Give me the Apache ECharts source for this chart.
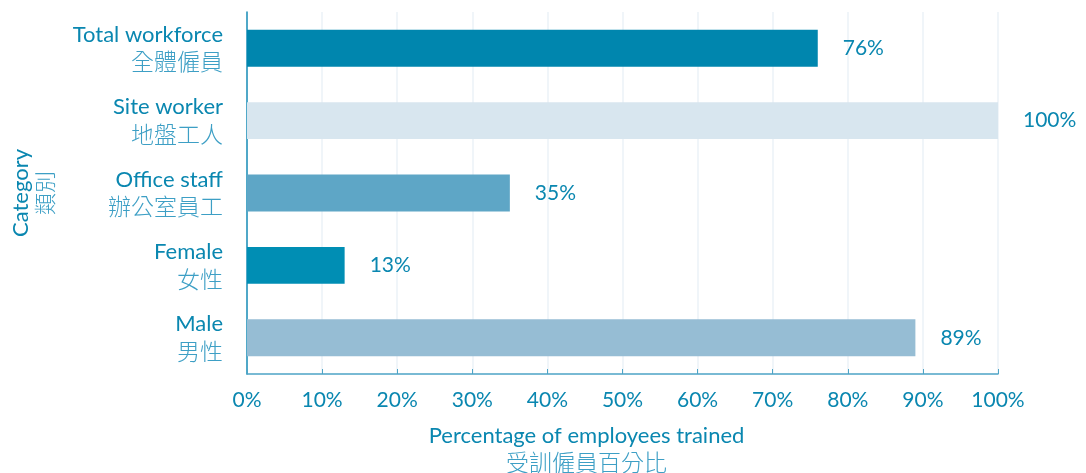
<!DOCTYPE html>
<html>
<head>
<meta charset="utf-8">
<script src="https://cdn.jsdelivr.net/npm/echarts@6/dist/echarts.min.js"></script>
<style>
  html, body { margin: 0; padding: 0; background: #fff; }
  #chart { width: 1086px; height: 473px; }
</style>
</head>
<body>
<div id="chart"></div>
<script>
// categories, top to bottom
var cat_en = ['Total workforce', 'Site worker', 'Office staff', 'Female', 'Male'];
var cat_zh = ['全體僱員', '地盤工人', '辦公室員工', '女性', '男性'];
var values = [76, 100, 35, 13, 89];
var bar_colors = ['#0086ae', '#d8e6ef', '#5ea6c6', '#008eb4', '#96bdd4'];
var x_ticks = [0, 10, 20, 30, 40, 50, 60, 70, 80, 90, 100];

var txt_dark = '#0a87b0';
var txt_light = '#3d9fc5';
var font_en = 'Lato, "Noto Sans", sans-serif';
var font_zh = '"Noto Sans CJK TC", sans-serif';

var chart = echarts.init(document.getElementById('chart'));

var option = {
    animation: false,
    grid: {
        left: 247,
        right: 88,
        top: 12,
        bottom: 99,
        outerBoundsMode: 'none'
    },
    xAxis: {
        type: 'value',
        min: x_ticks[0],
        max: x_ticks[x_ticks.length - 1],
        interval: 10,
        name: '{en|Percentage of employees trained}\n{zh|受訓僱員百分比}',
        nameLocation: 'middle',
        nameGap: 48,
        nameTextStyle: {
            align: 'center',
            padding: [0, 72, 0, 0],
            rich: {
                en: { fontFamily: font_en, fontSize: 22, color: txt_dark, lineHeight: 27, align: 'center' },
                zh: { fontFamily: font_zh, fontSize: 23, color: txt_light, lineHeight: 27, align: 'center', fontWeight: 300 }
            }
        },
        axisLine: { show: true, lineStyle: { color: '#4ea4c6', width: 1.5 } },
        axisTick: { show: true, inside: true, length: 5, lineStyle: { color: '#4ea4c6' } },
        axisLabel: {
            margin: 16,
            fontFamily: font_en,
            fontSize: 21,
            color: txt_dark,
            formatter: '{value}%'
        },
        splitLine: { show: true, lineStyle: { color: '#ebf2f7', width: 1.5 } }
    },
    yAxis: {
        type: 'category',
        inverse: true,
        data: cat_en,
        name: '{en|Category}\n{zh|類別}',
        nameLocation: 'middle',
        nameRotate: 90,
        nameGap: 190,
        nameTextStyle: {
            align: 'center',
            rich: {
                en: { fontFamily: font_en, fontSize: 22, color: txt_dark, lineHeight: 24, align: 'center' },
                zh: { fontFamily: font_zh, fontSize: 22, color: txt_light, lineHeight: 24, align: 'center', fontWeight: 300 }
            }
        },
        axisLine: { show: true, lineStyle: { color: '#1b8fb8', width: 1.5 } },
        axisTick: { show: false },
        splitLine: { show: false },
        axisLabel: {
            margin: 24,
            formatter: function (value, idx) {
                return '{en|' + value + '}\n{zh|' + cat_zh[idx] + '}';
            },
            rich: {
                en: { fontFamily: font_en, fontSize: 22, color: txt_dark, lineHeight: 27, align: 'right' },
                zh: { fontFamily: font_zh, fontSize: 23, color: txt_light, lineHeight: 27, align: 'right', fontWeight: 300 }
            }
        }
    },
    series: [{
        type: 'bar',
        barWidth: '51%',
        data: values.map(function (v, i) {
            return { value: v, itemStyle: { color: bar_colors[i] } };
        }),
        label: {
            show: true,
            position: 'right',
            distance: 25,
            fontFamily: font_en,
            fontSize: 21,
            color: txt_dark,
            formatter: '{c}%'
        }
    }]
};

chart.setOption(option);
</script>
</body>
</html>
